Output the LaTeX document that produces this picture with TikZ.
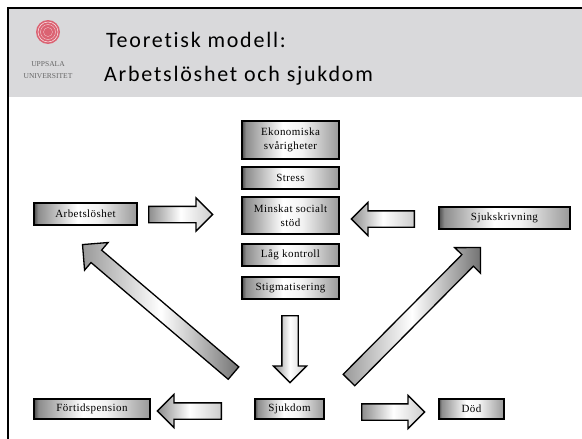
\documentclass[tikz,border=0pt]{standalone}
\usepackage{fontspec}
\setmainfont{Liberation Serif}
\newfontfamily\titlefont[LetterSpace=8, Ligatures=NoCommon]{Carlito}
\newfontfamily\boxfont[LetterSpace=4]{Liberation Serif}
\usetikzlibrary{shapes.arrows,shadows,calc}

\definecolor{headgray}{RGB}{217,217,219}
\definecolor{sealred}{RGB}{219,98,114}

\pgfdeclarehorizontalshading{boxshade}{100bp}{color(0bp)=(black!70); color(25bp)=(black!70);
  color(27bp)=(black!45); color(46bp)=(white); color(56bp)=(white!95!black);
  color(75bp)=(black!40); color(100bp)=(black!40)}

\tikzset{
  factor/.style={shape=rectangle, draw=black, line width=1.6pt, inner sep=1pt,
    shading=boxshade, shading angle=0,
    drop shadow={shadow xshift=1pt, shadow yshift=-1pt, fill=black!25},
    font=\boxfont\fontsize{11}{14}\selectfont, align=center},
  barrow/.style={shape=single arrow, draw=black, line width=1.3pt, inner sep=7.5pt,
    single arrow head extend=8.5pt, single arrow head indent=0pt, minimum width=0pt,
    left color=black!45, right color=black!20, middle color=white},
  darkhead/.style={left color=black!40, right color=black!55, middle color=white},
  uni/.style={font=\fontsize{7.5}{8}\selectfont, text=black!60, inner sep=0pt}
}

% block arrow from #2 to #3
\newcommand\blockarrow[3][]{%
  \path let \p1=($(#3)-(#2)$), \n1={atan2(\y1,\x1)}, \n2={veclen(\x1,\y1)} in
    node[barrow, #1, rotate=\n1, minimum height=\n2, anchor=tail] at (#2) {};}

\begin{document}
\begin{tikzpicture}[x=1pt, y=-1pt]
    \useasboundingbox (0,0) rectangle (582,439);

    % header
    \fill[headgray] (8,8) rectangle (582,97);
    \draw[line width=1.2pt] (8,439) -- (8,8) -- (582,8);

    \fill[sealred] (48,32) circle (12);
    \draw[white!85!sealred, line width=.5pt] (48,32) circle (10);
    \draw[white!70!sealred, line width=.4pt] (48,32) circle (7.5);
    \draw[white!70!sealred, line width=.3pt] (48,32) circle (4.5);
    \node[uni] (uu) at (48,64) {UPPSALA};
    \node[uni] (un) at (48,76) {UNIVERSITET};

    \node[anchor=base west, inner sep=0pt, font=\titlefont\fontsize{22}{26}\selectfont] (t1) at (106,48) {Teoretisk modell:};
    \node[anchor=base west, inner sep=0pt, font=\titlefont\fontsize{22}{26}\selectfont] (t2) at (104,81) {Arbetslöshet och sjukdom};

    % factors
    \node[factor, minimum width=97, minimum height=38] (eko) at (290.5,140) {Ekonomiska\\svårigheter};
    \node[factor, minimum width=97, minimum height=22] (stress) at (290.5,178) {Stress};
    \node[factor, minimum width=97, minimum height=37] (min) at (290.5,215.5) {Minskat socialt\\stöd};
    \node[factor, minimum width=97, minimum height=22] (lag) at (290.5,255) {Låg kontroll};
    \node[factor, minimum width=97, minimum height=22] (stig) at (290.5,288) {Stigmatisering};

    \node[factor, minimum width=103, minimum height=22] (arb) at (85.5,214) {Arbetslöshet};
    \node[factor, minimum width=131, minimum height=22] (sjs) at (504.5,218) {Sjukskrivning};

    \node[factor, minimum width=116, minimum height=20] (fort) at (92,409) {Förtidspension};
    \node[factor, minimum width=69, minimum height=20] (sjuk) at (289.5,409) {Sjukdom};
    \node[factor, minimum width=65, minimum height=20] (dod) at (471.5,409) {Död};

    % arrow ends
    \coordinate (arb-s) at (148,214.5);
    \coordinate (arb-t) at (212,214.5);
    \coordinate (sjs-s) at (415,219);
    \coordinate (sjs-t) at (352,219);
    \coordinate (stig-s) at (290,315);
    \coordinate (stig-t) at (290,382);
    \coordinate (fort-s) at (222,411);
    \coordinate (fort-t) at (158,411);
    \coordinate (dod-s) at (361,412);
    \coordinate (dod-t) at (424,412);
    \coordinate (la-s) at (234,373.5);
    \coordinate (la-t) at (83,245);
    \coordinate (ra-s) at (348.5,380.5);
    \coordinate (ra-t) at (480,248);

    \blockarrow{arb-s}{arb-t}
    \blockarrow{sjs-s}{sjs-t}
    \blockarrow{stig-s}{stig-t}
    \blockarrow{fort-s}{fort-t}
    \blockarrow{dod-s}{dod-t}
    \blockarrow[darkhead, single arrow head extend=10pt]{la-s}{la-t}
    \blockarrow[darkhead, single arrow head extend=10pt]{ra-s}{ra-t}

\end{tikzpicture}
\end{document}
